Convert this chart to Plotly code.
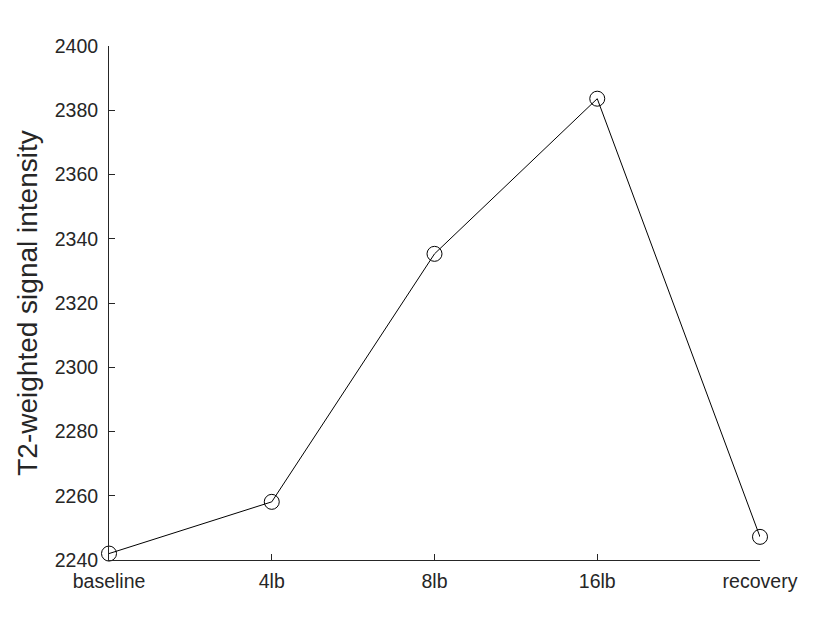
import plotly.graph_objects as go

categories = ["baseline", "4lb", "8lb", "16lb", "recovery"]
values = [2242.0, 2258.1, 2335.3, 2383.6, 2247.2]
y_ticks = [2240, 2260, 2280, 2300, 2320, 2340, 2360, 2380, 2400]

fig = go.Figure()
fig.add_trace(go.Scatter(
    x=list(range(len(categories))), y=values,
    mode="lines+markers",
    line=dict(color="black", width=1),
    marker=dict(symbol="circle-open", size=15, color="black", line=dict(width=1)),
    cliponaxis=False,
    showlegend=False,
))

fig.update_layout(
    width=840, height=630,
    margin=dict(l=101, r=88, t=38, b=78, autoexpand=False),
    plot_bgcolor="white", paper_bgcolor="white",
    font=dict(family="Liberation Sans, Arial, sans-serif", color="#262626", size=19.5),
)
fig.update_xaxes(
    range=[0, 4], tickvals=list(range(len(categories))), ticktext=categories,
    showgrid=False, zeroline=False, showline=True, linecolor="#262626", linewidth=1,
    ticks="inside", ticklen=6, tickcolor="#262626",
    tickfont=dict(size=19.5), ticklabelstandoff=4,
)
fig.update_yaxes(
    range=[2240, 2400], tickvals=y_ticks,
    showgrid=False, zeroline=False, showline=True, linecolor="#262626", linewidth=1,
    ticks="inside", ticklen=6, tickcolor="#262626",
    tickfont=dict(size=19.5), ticklabelstandoff=6,
    title=dict(text="T2-weighted signal intensity", font=dict(size=28), standoff=8),
)

fig.write_html("out.html")
